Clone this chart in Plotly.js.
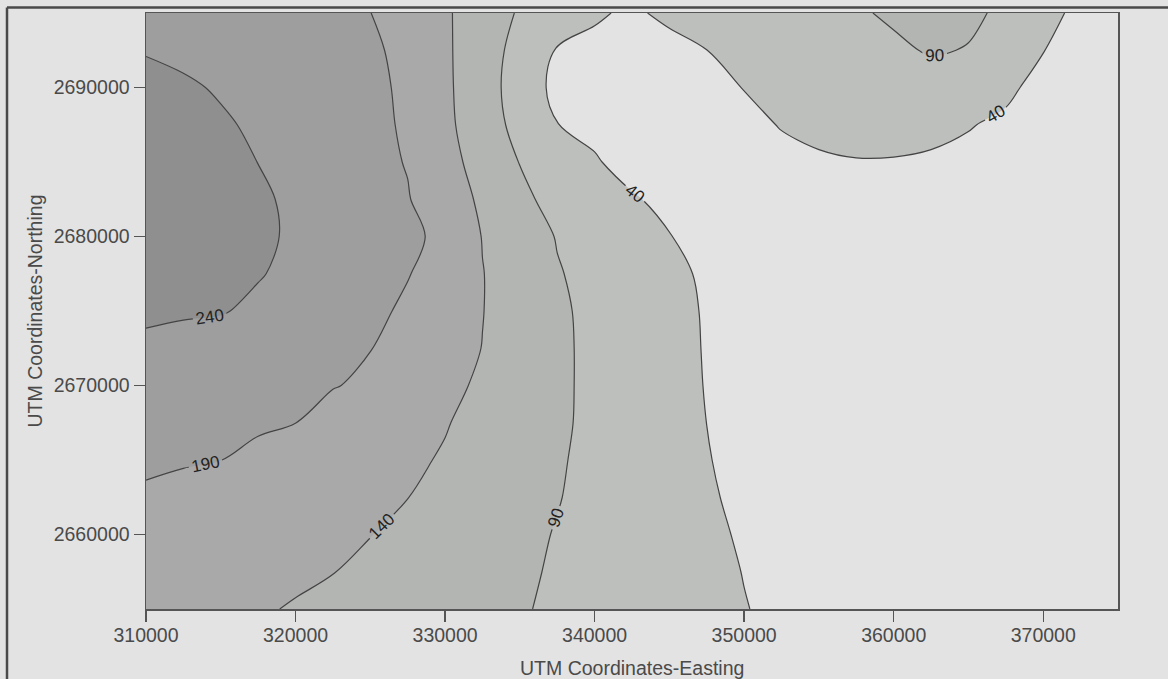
<!DOCTYPE html>
<html>
<head>
<meta charset="utf-8">
<script src="https://cdn.plot.ly/plotly-3.0.1.min.js"></script>
<style>
html,body{margin:0;padding:0;background:#e3e3e3;}
#chart{width:1168px;height:679px;}
</style>
</head>
<body>
<div id="chart"></div>
<script>
// Grid coordinates (UTM)
const easting = [310000,312500,315000,317500,320000,322500,325000,327500,330000,332500,335000,337500,340000,342500,345000,347500,350000,352500,355000,357500,360000,362500,365000,367500,370000,372500,375000];
const northing = [2655000,2657500,2660000,2662500,2665000,2667500,2670000,2672500,2675000,2677500,2680000,2682500,2685000,2687500,2690000,2692500,2695000];

// Estimated field values, one row per northing
const z_2655000 = [165,158.0,151.1,144.1,137.0,129.6,122.3,114.9,107.5,100.2,92.8,84.6,75.9,67.2,58.5,49.8,41.1,33.9,27,23.5,20,18.5,17,16.5,16,15.5,15];
const z_2657500 = [171,165.0,158.9,152.9,146.9,140.8,132.1,123.0,113.8,104.6,95.5,86.2,76.7,67.3,57.8,48.4,39.2,32.1,25,22.5,20,18.5,17,16.5,16,15.5,15];
const z_2660000 = [177,171.0,164.9,158.9,152.8,146.8,140.8,130.7,120.0,109.3,98.7,88.1,77.7,67.4,57.0,44.4,37.6,30.8,24,22,20,18.5,17,16.5,16,15.5,15];
const z_2662500 = [184,177.8,171.5,165.3,159.1,152.9,146.6,140.4,128.5,116.2,103.9,91.6,79.7,67.9,56.1,42.3,35.9,29.4,23,21.5,20,18.5,17,16.5,16,15.5,15];
const z_2665000 = [197,193.5,190.3,181.4,172.7,164.0,155.3,146.6,136.6,122.3,108.0,93.8,80.5,67.6,54.7,40.9,34.6,28.3,22,20.5,19,18,17,16.5,16,15.5,15];
const z_2667500 = [209,204.3,199.6,194.9,190.2,178.5,166.4,154.3,142.3,127.4,111.8,96.2,81.6,67.7,53.7,39.9,33.6,27.3,21,20,19,18,17,16.5,16,15.5,15];
const z_2670000 = [221,215.1,209.1,203.2,197.2,191.3,185.4,164.2,149.7,134.1,116.1,98.1,80.2,67.6,53.1,38.5,32.9,26.5,20,19.5,19,18,17,16.5,16,15.5,15];
const z_2672500 = [233,226.0,218.9,211.9,204.8,197.8,190.7,174.3,156.8,139.3,119.2,99.1,79.0,67.2,52.4,37.7,32.7,26.3,20,19.5,19,18,17,16.5,16,15.5,15];
const z_2675000 = [246,244.5,242.9,231.4,219.8,208.3,201.9,181.5,161.2,140.9,119.7,98.5,77.3,66.4,51.7,36.9,32.5,26.2,20,19.5,19,18,17,16.5,16,15.5,15];
const z_2677500 = [255,251,247,242.7,230.1,217.4,204.8,192.2,167.9,141.2,117.7,92.7,78.1,63.6,49.0,34.5,31.4,25.2,19,19,18.5,18,17,16.5,16,15.5,15];
const z_2680000 = [262,257,252,247.2,234.4,221.6,208.8,196.0,183.2,138.4,112.4,87.9,72.6,57.2,40.7,35.3,29.8,24.4,19,19,18.5,18,17,16.5,16,15.5,15];
const z_2682500 = [265,259,252.5,246.1,232.7,219.2,205.8,192.3,163.8,132.5,97.2,79.7,62.2,44.8,27.2,24,22,20,18,17.5,17,17,17,16.5,16,15.5,15];
const z_2685000 = [263,255.3,247.5,239.7,226.8,213.9,201.0,188.1,155.4,123.1,89.0,66.7,44.5,22,20,22,27,32,36,38.5,38,35,31,27,23,20,18];
const z_2687500 = [258,251.5,245.2,233.4,221.5,209.7,197.9,186.0,150.4,113.6,75.5,40.8,28,22,20,24,32,41.5,48,52,53,50,42,33,27,22,20];
const z_2690000 = [250,245.9,235.9,225.8,215.8,205.7,195.6,185.6,148.5,110.8,69.2,27.7,20,17,18,26,41,52,60,66,71,74,68,48,27,22,20];
const z_2692500 = [238,230.5,223.0,215.4,207.9,200.4,192.9,185.3,147.2,112.2,74.3,37.0,25,18,20,39.8,56,65,72,78,84,93,88.5,70,41,22,20];
const z_2695000 = [228,221.7,215.5,209.2,203.0,196.7,190.5,168.8,146.0,115.5,85.6,66.7,47.9,30,54,62,68,74,80,86,95,99,96,84,56,28,22];

// Contour levels and tick labels
const levelStart = 40, levelEnd = 240, levelStep = 50;
const xTickVals = [310000,320000,330000,340000,350000,360000,370000];
const xTickText = ['310000','320000','330000','340000','350000','360000','370000'];
const yTickVals = [2660000,2670000,2680000,2690000];
const yTickText = ['2660000','2670000','2680000','2690000'];
const bandColors = ['#e3e3e3','#bdbfbc','#b3b5b3','#a9a9a9','#9e9e9e','#8f8f8f'];

const zGrid = [z_2655000,z_2657500,z_2660000,z_2662500,z_2665000,z_2667500,z_2670000,z_2672500,z_2675000,z_2677500,z_2680000,z_2682500,z_2685000,z_2687500,z_2690000,z_2692500,z_2695000];

const font = 'Liberation Sans, Arial, sans-serif';

const trace = {
  type: 'contour',
  x: easting,
  y: northing,
  z: zGrid,
  autocontour: false,
  contours: {
    start: levelStart, end: levelEnd, size: levelStep,
    coloring: 'fill',
    showlabels: true,
    labelfont: {family: font, size: 17, color: '#222'}
  },
  colorscale: bandColors.map((c, i) => [i / (bandColors.length - 1), c]),
  showscale: false,
  line: {color: '#444', width: 1.2, smoothing: 1},
  hoverinfo: 'skip'
};

const axisCommon = {
  showgrid: false, zeroline: false,
  showline: true, mirror: true, linecolor: '#555', linewidth: 1.5,
  ticks: 'outside', ticklen: 11, tickwidth: 1.4, tickcolor: '#555',
  tickmode: 'array',
  tickfont: {family: font, size: 19.5, color: '#4a4a4a'}
};

const layout = {
  width: 1168, height: 679,
  margin: {l: 146, r: 50, t: 13, b: 70, pad: 0},
  paper_bgcolor: '#e3e3e3',
  plot_bgcolor: '#e3e3e3',
  showlegend: false,
  xaxis: Object.assign({}, axisCommon, {
    range: [310000, 375000], tickvals: xTickVals, ticktext: xTickText,
    ticklabelstandoff: -3
  }),
  yaxis: Object.assign({}, axisCommon, {
    range: [2655000, 2695000], tickvals: yTickVals, ticktext: yTickText
  }),
  annotations: [
    {text: 'UTM Coordinates-Easting', xref: 'paper', yref: 'paper', x: 0.5, y: -0.099,
     xanchor: 'center', yanchor: 'middle', showarrow: false,
     font: {family: font, size: 19.5, color: '#4a4a4a'}},
    {text: 'UTM Coordinates-Northing', xref: 'paper', yref: 'paper', x: -0.1147, y: 0.5,
     xanchor: 'center', yanchor: 'middle', textangle: -90, showarrow: false,
     font: {family: font, size: 19.5, color: '#4a4a4a'}}
  ],
  shapes: [
    {type: 'line', xref: 'paper', yref: 'paper', x0: -0.143, x1: 1.06, y0: 1.0092, y1: 1.0092,
     line: {color: '#4a4a4a', width: 2.5}},
    {type: 'line', xref: 'paper', yref: 'paper', x0: -0.143, x1: -0.143, y0: 1.0092, y1: -0.13,
     line: {color: '#4a4a4a', width: 2.5}}
  ]
};

Plotly.newPlot('chart', [trace], layout, {displayModeBar: false, staticPlot: true});
</script>
</body>
</html>
